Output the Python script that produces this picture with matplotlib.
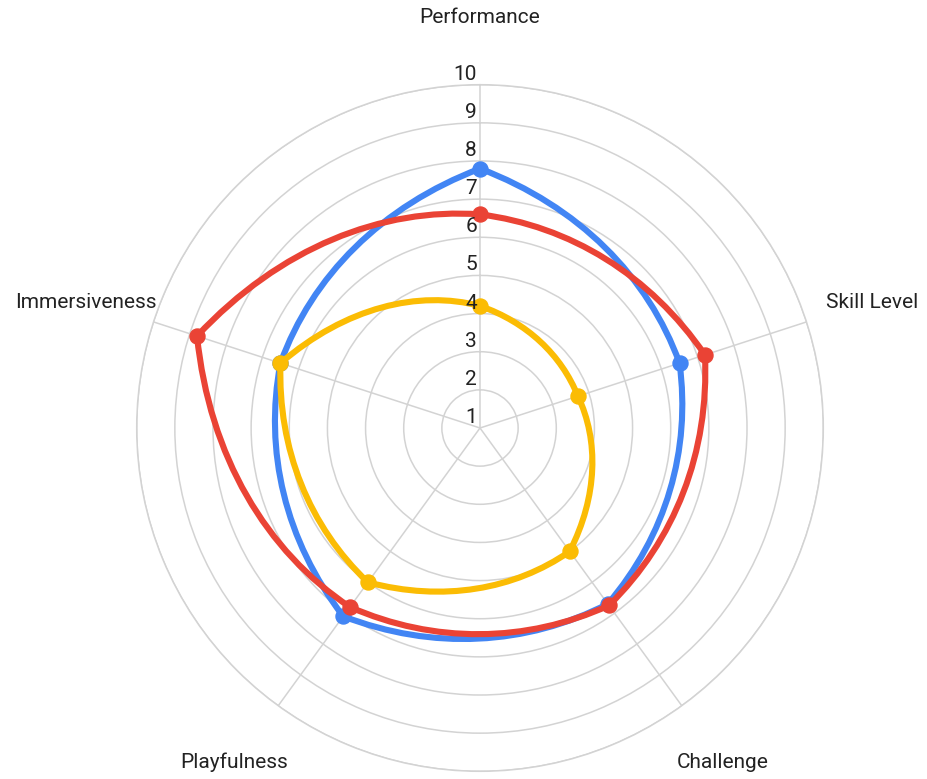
import numpy as np
import matplotlib
matplotlib.use("Agg")
import matplotlib.pyplot as plt
from matplotlib.path import Path
from matplotlib.patches import PathPatch

# ---- data -------------------------------------------------------------
categories = ["Performance", "Skill Level", "Challenge", "Playfulness", "Immersiveness"]
series_blue = [7.8, 6.5, 6.7, 7.1, 6.5]
series_red = [6.6, 7.2, 6.75, 6.8, 8.8]
series_yellow = [4.2, 3.7, 5.0, 6.0, 6.5]
radial_ticks = [1, 2, 3, 4, 5, 6, 7, 8, 9, 10]

series = [
    (series_blue, "#4285F4"),
    (series_red, "#EA4335"),
    (series_yellow, "#FBBC04"),
]

# ---- style --------------------------------------------------------------
plt.rcParams["font.family"] = ["Roboto", "DejaVu Sans"]
TEXT = "#222222"
GRID = "#d3d3d3"

W, H = 928, 779
fig = plt.figure(figsize=(W / 100, H / 100), dpi=100)
fig.patch.set_facecolor("white")

cx, cy, R = 480, 428, 343.3
ax = fig.add_axes([(cx - R) / W, (H - cy - R) / H, 2 * R / W, 2 * R / H],
                  projection="polar")
ax.set_theta_offset(np.pi / 2)
ax.set_theta_direction(-1)
r0, r1 = radial_ticks[0], radial_ticks[-1]

n = len(categories)
theta = np.arange(n) * 2 * np.pi / n

ax.set_xticks(theta)
ax.set_xticklabels([])
ax.set_yticks(radial_ticks[1:])
ax.set_yticklabels([])
ax.tick_params(length=0)
ax.grid(True, color=GRID, linewidth=1.1)
ax.spines["polar"].set_color(GRID)
ax.spines["polar"].set_linewidth(1.1)
ax.set_axisbelow(True)


def radar_path(vals):
    """Closed path whose segments are cubic Beziers; the control points sit
    at 1/3 and 2/3 of each (angle, value) step, so the polar projection
    bends every segment around the centre."""
    t_ext = np.append(theta, 2 * np.pi)
    v_ext = np.append(vals, vals[0])
    verts = [(t_ext[0], v_ext[0])]
    codes = [Path.MOVETO]
    for k in range(n):
        ta, tb = t_ext[k], t_ext[k + 1]
        va, vb = v_ext[k], v_ext[k + 1]
        for f in (1 / 3, 2 / 3, 1.0):
            verts.append((ta + f * (tb - ta), va + f * (vb - va)))
            codes.append(Path.CURVE4)
    return Path(verts, codes)


for i, (vals, color) in enumerate(series):
    patch = PathPatch(radar_path(vals), fill=False, edgecolor=color,
                      linewidth=4.4, joinstyle="round", capstyle="round",
                      transform=ax.transData, zorder=3 + i)
    ax.add_patch(patch)
    ax.plot(theta, vals, linestyle="none", marker="o", markersize=10.8,
            color=color, zorder=3 + i)

ax.set_rlim(r0, r1)

# ---- radial tick labels along the top spoke ----
for v in radial_ticks:
    ax.annotate(str(v), xy=(0, v), xytext=(-3, 5), textcoords="offset pixels",
                ha="right", va="baseline", fontsize=15, color=TEXT,
                annotation_clip=False, zorder=10)

# ---- category labels outside the outer ring ----
label_offsets = [
    ((0, 62), "center"),
    ((20, 14), "left"),
    ((-5, -62), "left"),
    ((10, -62), "right"),
    ((3, 14), "right"),
]
for t, name, (off, ha) in zip(theta, categories, label_offsets):
    ax.annotate(name, xy=(t, r1), xytext=off,
                textcoords="offset pixels", ha=ha, va="baseline",
                fontsize=15, color=TEXT, annotation_clip=False)

fig.savefig("out.png", dpi=100, facecolor="white")
